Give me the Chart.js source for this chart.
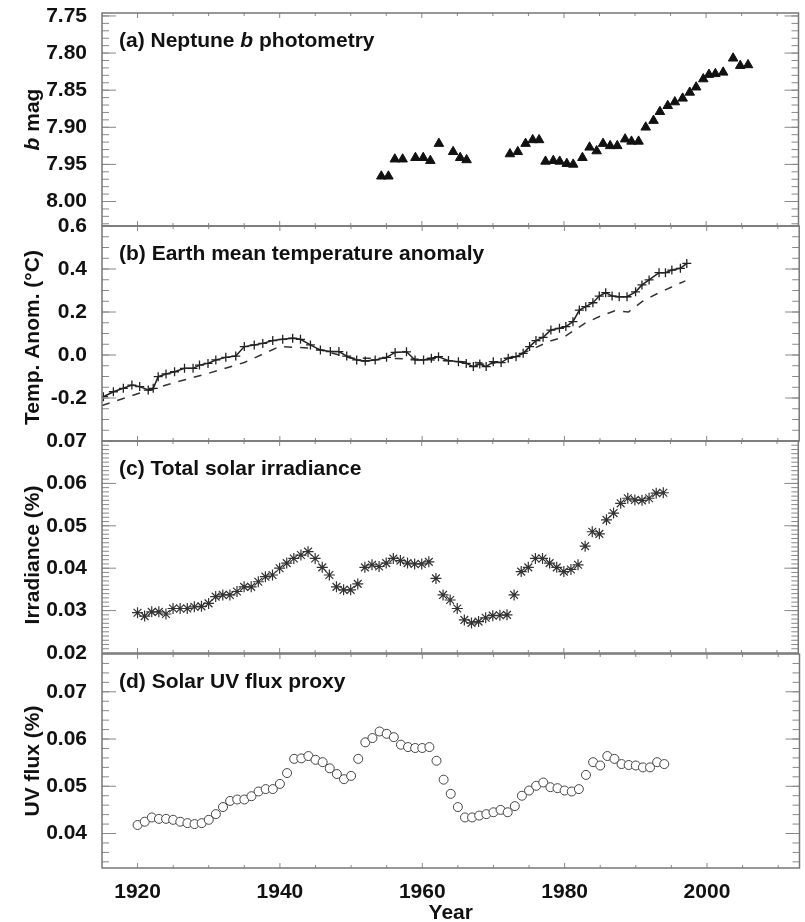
<!DOCTYPE html><html><head><title>Neptune photometry, temperature and solar series</title>
<style>html,body{margin:0;padding:0;background:#fff}body{width:805px;height:922px;overflow:hidden;position:relative}canvas{position:absolute;left:0}</style>
<script src="https://cdn.jsdelivr.net/npm/chart.js@4"></script>
</head><body>
<canvas id="pa"></canvas><canvas id="pb"></canvas><canvas id="pc"></canvas><canvas id="pd"></canvas>
<script>
// x axis
const xTicks = [1920, 1940, 1960, 1980, 2000];

// (a) Neptune b photometry
const neptuneYears = [1954.3, 1955.3, 1956.2, 1957.3, 1959.1, 1960.2, 1961.2, 1962.4, 1964.4, 1965.4, 1966.3,
  1972.4, 1973.5, 1974.6, 1975.6, 1976.5, 1977.4, 1978.5, 1979.4, 1980.4, 1981.3, 1982.6, 1983.6, 1984.6,
  1985.5, 1986.5, 1987.5, 1988.6, 1989.5, 1990.5, 1991.5, 1992.6, 1993.5, 1994.6, 1995.6, 1996.7, 1997.7,
  1998.6, 1999.6, 2000.4, 2001.3, 2002.4, 2003.8, 2004.8, 2005.9];
const neptuneMag = [7.966, 7.966, 7.943, 7.943, 7.941, 7.941, 7.945, 7.922, 7.933, 7.941, 7.944,
  7.936, 7.933, 7.922, 7.917, 7.917, 7.946, 7.945, 7.946, 7.949, 7.950, 7.941, 7.927, 7.932,
  7.922, 7.925, 7.925, 7.916, 7.919, 7.919, 7.900, 7.891, 7.879, 7.871, 7.866, 7.861, 7.853,
  7.846, 7.835, 7.829, 7.828, 7.826, 7.807, 7.817, 7.816];
const magTicks = [7.75, 7.80, 7.85, 7.90, 7.95, 8.00];

// (b) Earth mean temperature anomaly
const tempYears = [1915.2, 1916.6, 1918.0, 1919.2, 1920.3, 1921.5, 1922.2, 1922.9, 1924.0, 1925.2,
  1926.6, 1927.8, 1928.7, 1929.9, 1931.0, 1932.4, 1933.8, 1935.0, 1936.4, 1937.6, 1939.0, 1940.4,
  1941.8, 1942.9, 1944.3, 1945.7, 1947.1, 1948.3, 1949.4, 1950.8, 1952.0, 1953.4, 1955.0, 1956.2,
  1957.8, 1959.0, 1960.2, 1961.3, 1962.3, 1963.7, 1965.1, 1966.2, 1967.2, 1968.1, 1969.0, 1970.0,
  1971.1, 1972.1, 1973.2, 1974.2, 1975.1, 1976.0, 1977.0, 1978.1, 1979.3, 1980.2, 1981.2, 1982.1,
  1983.0, 1984.0, 1984.9, 1985.8, 1986.7, 1987.7, 1988.8, 1990.0, 1990.9, 1991.9, 1993.3, 1994.2,
  1995.1, 1996.3, 1997.2];
const tempAnom = [-0.194, -0.171, -0.155, -0.140, -0.147, -0.163, -0.155, -0.101, -0.088, -0.078,
  -0.062, -0.062, -0.047, -0.039, -0.023, -0.011, -0.005, 0.039, 0.047, 0.054, 0.067, 0.073,
  0.078, 0.073, 0.047, 0.023, 0.016, 0.016, -0.005, -0.023, -0.028, -0.023, -0.011, 0.012,
  0.015, -0.023, -0.023, -0.015, -0.008, -0.026, -0.031, -0.039, -0.054, -0.042, -0.054, -0.031,
  -0.035, -0.015, -0.008, 0.008, 0.039, 0.067, 0.082, 0.116, 0.124, 0.132, 0.155, 0.209,
  0.225, 0.243, 0.274, 0.290, 0.274, 0.271, 0.271, 0.294, 0.326, 0.349, 0.383, 0.383,
  0.395, 0.403, 0.426];
const modelYears = [1915, 1920, 1925, 1930, 1935, 1940, 1945, 1950, 1955, 1960, 1965, 1970, 1975,
  1978, 1980, 1983, 1985, 1987, 1989, 1991, 1993, 1995, 1997];
const modelAnom = [-0.235, -0.180, -0.130, -0.085, -0.035, 0.040, 0.030, -0.015, -0.015, -0.020,
  -0.030, -0.040, 0.020, 0.065, 0.085, 0.150, 0.180, 0.205, 0.200, 0.250, 0.285, 0.315, 0.345];
const tempTicks = [-0.2, 0.0, 0.2, 0.4, 0.6];

// (c) and (d) solar series, annual
const solarYears = [1920, 1921, 1922, 1923, 1924, 1925, 1926, 1927, 1928, 1929, 1930, 1931, 1932,
  1933, 1934, 1935, 1936, 1937, 1938, 1939, 1940, 1941, 1942, 1943, 1944, 1945, 1946, 1947, 1948,
  1949, 1950, 1951, 1952, 1953, 1954, 1955, 1956, 1957, 1958, 1959, 1960, 1961, 1962, 1963, 1964,
  1965, 1966, 1967, 1968, 1969, 1970, 1971, 1972, 1973, 1974, 1975, 1976, 1977, 1978, 1979, 1980,
  1981, 1982, 1983, 1984, 1985, 1986, 1987, 1988, 1989, 1990, 1991, 1992, 1993, 1994];
const irradiance = [0.0295, 0.0287, 0.0297, 0.0297, 0.0292, 0.0305, 0.0305, 0.0305, 0.0309, 0.0310,
  0.0317, 0.0333, 0.0337, 0.0337, 0.0345, 0.0356, 0.0356, 0.0368, 0.0380, 0.0384,
  0.0400, 0.0412, 0.0423, 0.0431, 0.0439, 0.0423, 0.0402, 0.0384, 0.0356, 0.0349,
  0.0349, 0.0363, 0.0402, 0.0408, 0.0404, 0.0412, 0.0423, 0.0418, 0.0412, 0.0410,
  0.0410, 0.0415, 0.0376, 0.0337, 0.0325, 0.0305, 0.0278, 0.0271, 0.0274, 0.0283,
  0.0288, 0.0289, 0.0290, 0.0337, 0.0392, 0.0402, 0.0423, 0.0423, 0.0412, 0.0402,
  0.0392, 0.0397, 0.0408, 0.0452, 0.0486, 0.0481, 0.0514, 0.0530, 0.0553, 0.0565,
  0.0561, 0.0560, 0.0565, 0.0577, 0.0578];
const irrTicks = [0.02, 0.03, 0.04, 0.05, 0.06, 0.07];
const uvFlux = [0.0418, 0.0425, 0.0434, 0.0431, 0.0431, 0.0429, 0.0425, 0.0422, 0.0420, 0.0422,
  0.0429, 0.0441, 0.0456, 0.0469, 0.0472, 0.0472, 0.0479, 0.0489, 0.0494, 0.0494,
  0.0505, 0.0528, 0.0558, 0.0559, 0.0564, 0.0556, 0.0551, 0.0538, 0.0526, 0.0515,
  0.0522, 0.0558, 0.0593, 0.0602, 0.0616, 0.0611, 0.0604, 0.0588, 0.0583, 0.0581,
  0.0581, 0.0583, 0.0554, 0.0514, 0.0484, 0.0456, 0.0434, 0.0434, 0.0438, 0.0441,
  0.0445, 0.0450, 0.0445, 0.0458, 0.0480, 0.0491, 0.0501, 0.0508, 0.0498, 0.0496,
  0.0491, 0.0489, 0.0494, 0.0524, 0.0551, 0.0544, 0.0564, 0.0558, 0.0547, 0.0545,
  0.0544, 0.0540, 0.0540, 0.0551, 0.0547];
const uvTicks = [0.04, 0.05, 0.06, 0.07];

const FAMILY = "'Liberation Sans', Arial, sans-serif";
const FS = 21;
const PAD = 20; // room for the y tick labels that sit on the panel edges
Chart.defaults.font.family = FAMILY;
Chart.defaults.color = '#111';
const pts = (xs, ys) => xs.map((x, i) => ({ x, y: ys[i] }));

function drawRich(ctx, segs, x, y, center) {
  const fonts = segs.map(s => (s.italic ? 'italic ' : '') + 'bold ' + FS + 'px ' + FAMILY);
  let w = 0;
  segs.forEach((s, i) => { ctx.font = fonts[i]; w += ctx.measureText(s.t).width; });
  let cx = center ? x - w / 2 : x;
  segs.forEach((s, i) => { ctx.font = fonts[i]; ctx.fillText(s.t, cx, y); cx += ctx.measureText(s.t).width; });
}

// frame, inward ticks on all sides, panel caption and y title
const panelDecor = {
  id: 'panelDecor',
  afterDraw(chart, args, o) {
    const { ctx, chartArea: a, scales: { x, y } } = chart;
    ctx.save();
    const seg = (x1, y1, x2, y2) => { ctx.beginPath(); ctx.moveTo(x1, y1); ctx.lineTo(x2, y2); ctx.stroke(); };
    ctx.strokeStyle = '#888'; ctx.lineWidth = 1;
    for (let k = 383; k <= 402; k++) {
      const v = k * 5, px = x.getPixelForValue(v);
      if (px <= a.left || px >= a.right) continue;
      const len = v % 20 === 0 ? 5 : 3;
      seg(px, a.top, px, a.top + len); seg(px, a.bottom, px, a.bottom - len);
    }
    const lo = Math.min(y.min, y.max), hi = Math.max(y.min, y.max);
    for (let k = Math.ceil(lo / o.minor - 1e-6); k * o.minor <= hi + 1e-9; k++) {
      const py = y.getPixelForValue(k * o.minor);
      if (py <= a.top + 0.5 || py >= a.bottom - 0.5) continue;
      seg(a.left, py, a.left + 7, py); seg(a.right, py, a.right - 7, py);
    }
    o.major.forEach(v => {
      const py = y.getPixelForValue(v);
      if (py <= a.top + 0.5 || py >= a.bottom - 0.5) return;
      seg(a.left, py, a.left + 14, py); seg(a.right, py, a.right - 14, py);
    });
    ctx.strokeStyle = '#777'; ctx.lineWidth = 1.5;
    ctx.strokeRect(a.left, a.top, a.right - a.left, a.bottom - a.top);
    ctx.fillStyle = '#111';
    ctx.textBaseline = 'middle';
    drawRich(ctx, o.label, a.left + 17, a.top + 28, false);
    ctx.translate(39, (a.top + a.bottom) / 2 + (o.titleShift || 0));
    ctx.rotate(-Math.PI / 2);
    ctx.textBaseline = 'alphabetic';
    drawRich(ctx, o.yTitle, 0, 0, true);
    ctx.restore();
  }
};

function makePanel(id, top, bottom, y, datasets, decor, showX) {
  const canvas = document.getElementById(id);
  const cTop = top - PAD;
  const h = showX ? 931 - cTop : bottom - top + 2 * PAD;
  canvas.width = 805; canvas.height = h;
  canvas.style.top = cTop + 'px';
  const xScale = { type: 'linear', min: 1915, max: 2013, display: showX,
    grid: { display: false }, border: { display: false } };
  if (showX) Object.assign(xScale, {
    afterBuildTicks: s => { s.ticks = xTicks.map(v => ({ value: v })); },
    afterFit: s => { s.height = 931 - bottom; },
    ticks: { callback: v => String(v), padding: 4, font: { size: FS, weight: 'bold' }, maxRotation: 0 },
    title: { display: true, text: 'Year', font: { size: FS, weight: 'bold' }, padding: { top: 0, bottom: 5 } }
  });
  return new Chart(canvas, {
    type: 'scatter',
    data: { datasets },
    options: {
      responsive: false, animation: false,
      layout: { padding: { top: PAD, bottom: showX ? 0 : PAD, left: 0, right: 2 } },
      plugins: { legend: { display: false }, tooltip: { enabled: false }, panelDecor: decor },
      scales: {
        x: xScale,
        y: { type: 'linear', min: y.min, max: y.max, reverse: !!y.reverse,
          afterFit: s => { s.width = 102; },
          afterBuildTicks: s => { s.ticks = y.ticks.map(v => ({ value: v })); },
          ticks: { callback: v => v.toFixed(y.dec), padding: 7, font: { size: FS, weight: 'bold' } },
          grid: { display: false }, border: { display: false } }
      }
    },
    plugins: [panelDecor]
  });
}

makePanel('pa', 13, 226, { min: 7.746, max: 8.033, reverse: true, ticks: magTicks, dec: 2 }, [
  { data: pts(neptuneYears, neptuneMag), pointStyle: 'triangle', pointRadius: 5.5,
    backgroundColor: '#111', borderColor: '#111', borderWidth: 1 }
], { label: [{ t: '(a) Neptune ' }, { t: 'b', italic: true }, { t: ' photometry' }],
     yTitle: [{ t: 'b', italic: true }, { t: ' mag' }], major: magTicks, minor: 0.01 }, false);

makePanel('pb', 226, 441, { min: -0.4, max: 0.6, ticks: tempTicks, dec: 1 }, [
  { data: pts(tempYears, tempAnom), showLine: true, borderColor: '#222', borderWidth: 1.5,
    pointStyle: 'cross', pointRadius: 4.5, pointBorderWidth: 1.3, pointBorderColor: '#222' },
  { data: pts(modelYears, modelAnom), showLine: true, borderColor: '#333', borderWidth: 1.5,
    borderDash: [8, 8], pointRadius: 0 }
], { label: [{ t: '(b) Earth mean temperature anomaly' }],
     yTitle: [{ t: 'Temp. Anom. (\u00B0C)' }], major: tempTicks, minor: 0.05, titleShift: 4 }, false);

makePanel('pc', 441, 653, { min: 0.02, max: 0.07, ticks: irrTicks, dec: 2 }, [
  { data: pts(solarYears, irradiance), pointStyle: 'star', pointRadius: 5.5,
    borderColor: '#333', backgroundColor: '#333', borderWidth: 1.2 }
], { label: [{ t: '(c) Total solar irradiance' }],
     yTitle: [{ t: 'Irradiance (%)' }], major: irrTicks, minor: 0.001, titleShift: 8 }, false);

makePanel('pd', 654, 868, { min: 0.0327, max: 0.078, ticks: uvTicks, dec: 2 }, [
  { data: pts(solarYears, uvFlux), pointStyle: 'circle', pointRadius: 4.5,
    borderColor: '#444', backgroundColor: '#fff', borderWidth: 1 }
], { label: [{ t: '(d) Solar UV flux proxy' }],
     yTitle: [{ t: 'UV flux (%)' }], major: uvTicks, minor: 0.002 }, true);
</script>
</body>
</html>
